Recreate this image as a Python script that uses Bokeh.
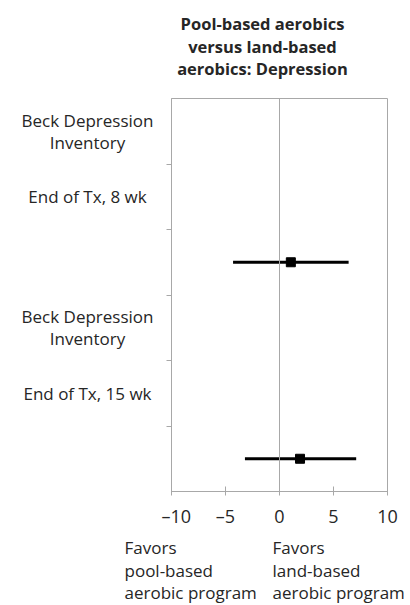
from bokeh.plotting import figure
from bokeh.layouts import column, row
from bokeh.models import Range1d, FixedTicker, Span, ColumnDataSource
from bokeh.core.properties import value
from bokeh.embed import file_html
from bokeh.resources import INLINE

title_lines = ["Pool-based aerobics", "versus land-based", "aerobics: Depression"]
row_labels = ["Beck Depression\nInventory", "End of Tx, 8 wk", "Beck Depression\nInventory", "End of Tx, 15 wk"]
row_label_pos = [5.5, 4.5, 2.5, 1.5]
row_ticks = [1, 2, 3, 4, 5]
est_y = [3.5, 0.5]
est = [1.05, 1.9]
lower = [-4.3, -3.2]
upper = [6.4, 7.1]
x_ticks = [-10, -5, 0, 5, 10]
x_tick_labels = ["\u201310", "\u20135", "0", "5", "10"]
favors_left = ["Favors", "pool-based", "aerobic program"]
favors_right = ["Favors", "land-based", "aerobic program"]

FONT = "Open Sans"
GRAY = "#a8a8a8"
TXT = "#262626"

W = 410
TOP_H = 88
LEFT_W = 161
BT, FH, BB = 10, 393, 40
BL, FW = 10, 216
MID_H = BT + FH + BB
BOT_H = 72

def blank(w, h, xr, yr):
    f = figure(width=w, height=h, x_range=xr, y_range=yr, output_backend="svg",
               toolbar_location=None, x_axis_location=None, y_axis_location=None,
               min_border=0, title=None)
    f.outline_line_color = None
    f.grid.visible = False
    return f

# title panel (pixel coordinates, y downward)
top = blank(W, TOP_H, Range1d(0, W), Range1d(TOP_H, 0))
top.text(x=[262] * 3, y=[23 + 22.5 * i for i in range(3)], text=title_lines,
         text_align="center", text_baseline="middle", text_font=value(FONT),
         text_font_size="16.5px", text_font_style="bold", text_color=TXT)

# main plot
yr = Range1d(0, 6)
p = figure(width=W - LEFT_W, height=MID_H, frame_width=FW, frame_height=FH,
           min_border_left=BL, min_border_top=BT, min_border_bottom=BB,
           min_border_right=W - LEFT_W - BL - FW, title=None,
           x_range=Range1d(-10, 10), y_range=yr,
           output_backend="svg", toolbar_location=None)
p.outline_line_color = GRAY
p.xgrid.visible = False
p.ygrid.visible = False

p.xaxis.ticker = FixedTicker(ticks=x_ticks)
p.xaxis.major_label_overrides = {t: l for t, l in zip(x_ticks, x_tick_labels)}
p.xaxis.axis_line_color = GRAY
p.xaxis.major_tick_line_color = GRAY
p.xaxis.major_tick_in = 5
p.xaxis.major_tick_out = 4
p.xaxis.minor_tick_line_color = None
p.xaxis.major_label_text_font = FONT
p.xaxis.major_label_text_font_size = "18px"
p.xaxis.major_label_text_color = TXT
p.xaxis.major_label_standoff = 8

# row separators as minor ticks only (no labels)
p.yaxis.ticker = FixedTicker(ticks=[], minor_ticks=row_ticks)
p.yaxis.axis_line_color = GRAY
p.yaxis.major_tick_line_color = None
p.yaxis.minor_tick_line_color = GRAY
p.yaxis.minor_tick_in = 0
p.yaxis.minor_tick_out = 5

p.add_layout(Span(location=0, dimension="height", line_color=GRAY, line_width=1))

src = ColumnDataSource(dict(y=est_y, x=est, lo=lower, hi=upper))
p.segment(x0="lo", x1="hi", y0="y", y1="y", source=src, line_color="black", line_width=3)
p.scatter(x="x", y="y", source=src, marker="square", size=9, fill_color="black", line_color="black")

# left label panel shares y range
left = figure(width=LEFT_W, height=MID_H, frame_width=LEFT_W, frame_height=FH,
              min_border_left=0, min_border_right=0, min_border_top=BT, min_border_bottom=BB,
              x_range=Range1d(0, LEFT_W), y_range=yr, output_backend="svg", title=None,
              toolbar_location=None, x_axis_location=None, y_axis_location=None)
left.outline_line_color = None
left.grid.visible = False
lx, ly, lt = [], [], []
px_per_unit = FH / 6.0
for lab, yy in zip(row_labels, row_label_pos):
    lines = lab.split("\n")
    n = len(lines)
    for j, ln in enumerate(lines):
        lx.append(87)
        ly.append(yy - (j - (n - 1) / 2) * 22 / px_per_unit)
        lt.append(ln)
left.text(x=lx, y=ly, text=lt, text_align="center", text_baseline="middle",
          text_font=value(FONT), text_font_size="17px", text_color=TXT)

# bottom panel (pixel coordinates relative to its own top)
y0 = TOP_H + MID_H
bot = blank(W, BOT_H, Range1d(0, W), Range1d(BOT_H, 0))
bx, by, bt = [], [], []
for lines, xp in ((favors_left, 124), (favors_right, 272)):
    for j, ln in enumerate(lines):
        bx.append(xp)
        by.append(547 + 22.5 * j - y0)
        bt.append(ln)
bot.text(x=bx, y=by, text=bt, text_align="left", text_baseline="middle",
         text_font=value(FONT), text_font_size="17px", text_color=TXT)

layout = column(top, row(left, p), bot)
open("out.html", "w").write(file_html(layout, INLINE))
